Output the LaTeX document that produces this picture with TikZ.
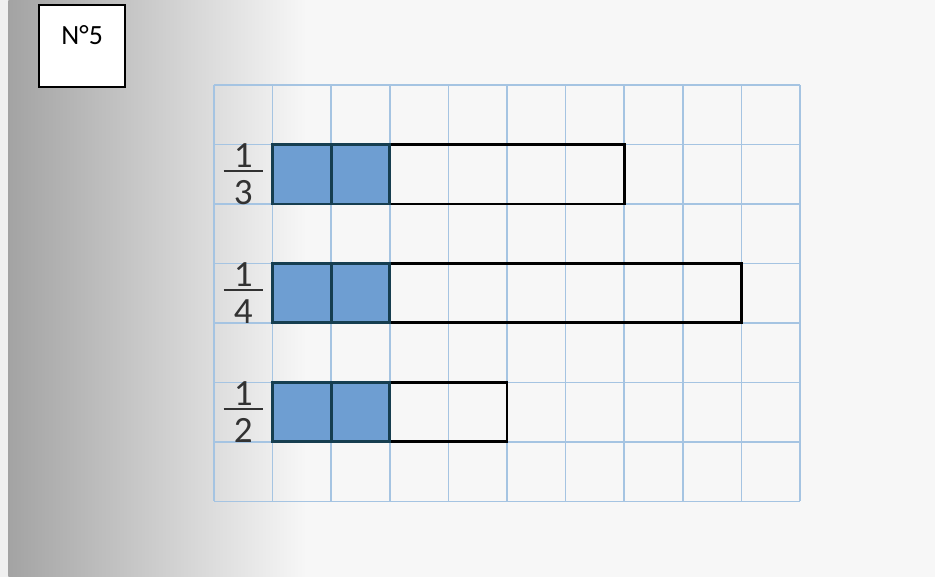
\documentclass[tikz,border=0pt]{standalone}
\usepackage{fontspec}
\setmainfont{Carlito}
\definecolor{gridblue}{RGB}{165,196,226}
\definecolor{cellblue}{RGB}{110,158,210}
\definecolor{celledge}{RGB}{22,62,80}
\definecolor{inkgray}{RGB}{50,50,50}
\newcommand{\frc}[2]{\setlength{\arrayrulewidth}{0.8pt}%
  \begin{tabular}{@{}c@{}}\hspace*{5pt}#1\hspace*{5pt}\\[-4.8pt]\hline\rule{0pt}{15.7pt}#2\end{tabular}}

\begin{document}
\begin{tikzpicture}[x=1cm,y=1.015cm,
    gridline/.style={gridblue,line width=0.7pt},
    barline/.style={black,line width=1.4pt},
    shadedcell/.style={fill=cellblue,draw=celledge,line width=1.4pt},
    fraclabel/.style={inkgray,font=\fontsize{18}{21}\selectfont}]
  % page and shadow of the spine
  \fill[black!3] (-3.652,1.429) rectangle (12.304,-8.269);
  \shade[left color=black!36,right color=black!3] (-3.51,1.429) rectangle (1.6,-8.269);
  \fill[black!6] (-3.652,1.429) rectangle (-3.51,-8.269);
  \useasboundingbox (-3.652,1.429) rectangle (12.304,-8.269);
  % exercise number
  \node[draw,line width=1pt,fill=white,minimum width=1.47cm,minimum height=1.4cm] (numbox) at (-2.25,0.65) {};
  \node[font=\fontsize{13.5}{16}\selectfont] (num) at (-2.25,0.84) {N°5};
  % squared paper
  \foreach \i in {0,...,10}
    \draw[gridline] (\i,0) -- (\i,-7);
  \foreach \j in {0,...,7}
    \draw[gridline] (0,-\j) -- (10,-\j);
  % the three bars
  \foreach \row/\len/\den in {1/7/3, 3/9/4, 5/5/2} {
    \draw[barline] (1,-\row) rectangle (\len,{-\row-1});
    \draw[shadedcell] (1,-\row) rectangle (2,{-\row-1});
    \draw[shadedcell] (2,-\row) rectangle (3,{-\row-1});
    \node[fraclabel] (f\den) at (0.5,{-\row-0.55}) {\frc{1}{\den}};
  }
\end{tikzpicture}
\end{document}
